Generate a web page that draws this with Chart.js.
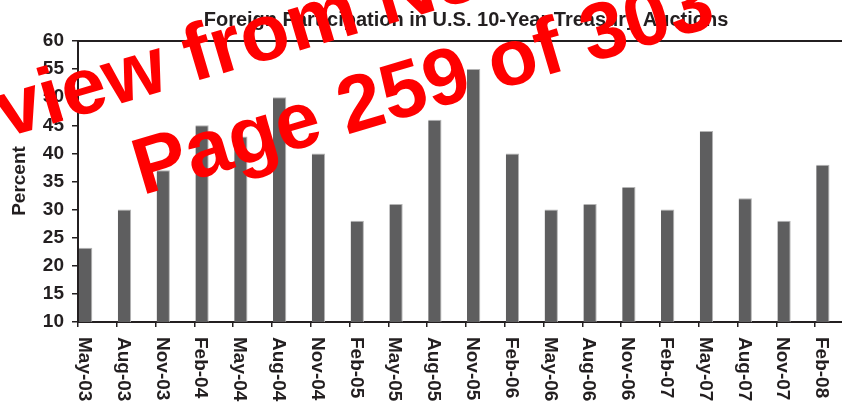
<!DOCTYPE html>
<html>
<head>
<meta charset="utf-8">
<script src="https://cdn.jsdelivr.net/npm/chart.js@4"></script>
<style>
  html, body { margin: 0; padding: 0; background: #ffffff; overflow: hidden; }
  #wrap { position: relative; width: 860px; height: 407px; }
</style>
</head>
<body>
<div id="wrap"><canvas id="chart"></canvas></div>
<script>
const chartTitle = 'Foreign Participation in U.S. 10-Year Treasury Auctions';
const yAxisTitle = 'Percent';
const categories = ['May-03','Aug-03','Nov-03','Feb-04','May-04','Aug-04','Nov-04','Feb-05','May-05','Aug-05',
                    'Nov-05','Feb-06','May-06','Aug-06','Nov-06','Feb-07','May-07','Aug-07','Nov-07','Feb-08'];
const participation = [23.2, 30, 37, 45, 43, 50, 40, 28, 31, 46,
                       55, 40, 30, 31, 34, 30, 44, 32, 28, 38];
const emptySeries = categories.map(() => null);
const yMin = 10, yMax = 60, yStep = 5;
const watermarkLines = ['Preview from Notesale.co.uk', 'Page 259 of 303'];

const TEXT = '#231f20';
const FONT = '"Liberation Sans", Arial, Helvetica, sans-serif';

const overlay = {
  id: 'overlay',
  afterDraw(chart) {
    const { ctx, chartArea } = chart;
    ctx.save();
    // top border of plot
    ctx.strokeStyle = TEXT;
    ctx.lineWidth = 2;
    ctx.beginPath();
    ctx.moveTo(chartArea.left, chartArea.top);
    ctx.lineTo(chartArea.right, chartArea.top);
    ctx.stroke();

    // title
    ctx.fillStyle = TEXT;
    ctx.font = 'bold 20px ' + FONT;
    ctx.textAlign = 'center';
    ctx.textBaseline = 'alphabetic';
    ctx.fillText(chartTitle, (chartArea.left + chartArea.right) / 2, 26);

    // y axis title
    ctx.save();
    ctx.translate(20, 181);
    ctx.rotate(-Math.PI / 2);
    ctx.font = 'bold 19px ' + FONT;
    ctx.textAlign = 'center';
    ctx.textBaseline = 'middle';
    ctx.fillText(yAxisTitle, 0, 0);
    ctx.restore();

    // x labels, reading downward
    const meta = chart.getDatasetMeta(0);
    ctx.font = 'bold 19px ' + FONT;
    ctx.textAlign = 'left';
    ctx.textBaseline = 'middle';
    categories.forEach((lab, i) => {
      const el = meta.data[i];
      ctx.save();
      ctx.translate(el.x - 1.5, chartArea.bottom + 15);
      ctx.rotate(Math.PI / 2);
      ctx.fillText(lab, 0, 0);
      ctx.restore();
    });

    // watermark
    ctx.save();
    ctx.fillStyle = '#ff0000';
    ctx.font = 'bold 80px ' + FONT;
    ctx.textAlign = 'center';
    ctx.textBaseline = 'alphabetic';
    ctx.translate(430, 110);
    ctx.rotate(-16.5 * Math.PI / 180);
    ctx.fillText(watermarkLines[1], 0, 0);
    ctx.fillText(watermarkLines[0], 0, -94);
    ctx.restore();

    ctx.restore();
  }
};

new Chart(document.getElementById('chart'), {
  type: 'bar',
  data: {
    labels: categories,
    datasets: [
      {
        label: 'Foreign participation',
        data: participation,
        backgroundColor: '#5e5e5f',
        borderColor: '#b4b4b4',
        borderWidth: { top: 1, right: 1, left: 0, bottom: 0 },
        borderSkipped: false,
        categoryPercentage: 1.211,
        barPercentage: 0.566
      },
      {
        label: '',
        data: emptySeries,
        backgroundColor: 'rgba(0,0,0,0)',
        categoryPercentage: 1.211,
        barPercentage: 0.566
      }
    ]
  },
  options: {
    responsive: true,
    maintainAspectRatio: false,
    animation: false,
    devicePixelRatio: 1,
    layout: { padding: { top: 41, right: 6, left: 0, bottom: 0 } },
    plugins: {
      legend: { display: false },
      tooltip: { enabled: false },
      title: { display: false }
    },
    scales: {
      x: {
        type: 'category',
        offset: true,
        grid: {
          offset: true,
          display: true,
          drawOnChartArea: false,
          drawTicks: true,
          tickLength: 5,
          color: TEXT,
          lineWidth: 1.5
        },
        border: { display: true, color: TEXT, width: 2 },
        ticks: { display: false },
        afterFit(scale) { scale.height = 85; }
      },
      y: {
        min: yMin,
        max: yMax,
        ticks: {
          stepSize: yStep,
          color: TEXT,
          font: { family: FONT, size: 19, weight: 'bold' },
          padding: 8
        },
        grid: {
          display: true,
          drawOnChartArea: false,
          drawTicks: true,
          tickLength: 6,
          color: TEXT,
          lineWidth: 1.5
        },
        border: { display: true, color: TEXT, width: 2 },
        afterFit(scale) { scale.width = 78; }
      }
    }
  },
  plugins: [overlay]
});
</script>
</body>
</html>
